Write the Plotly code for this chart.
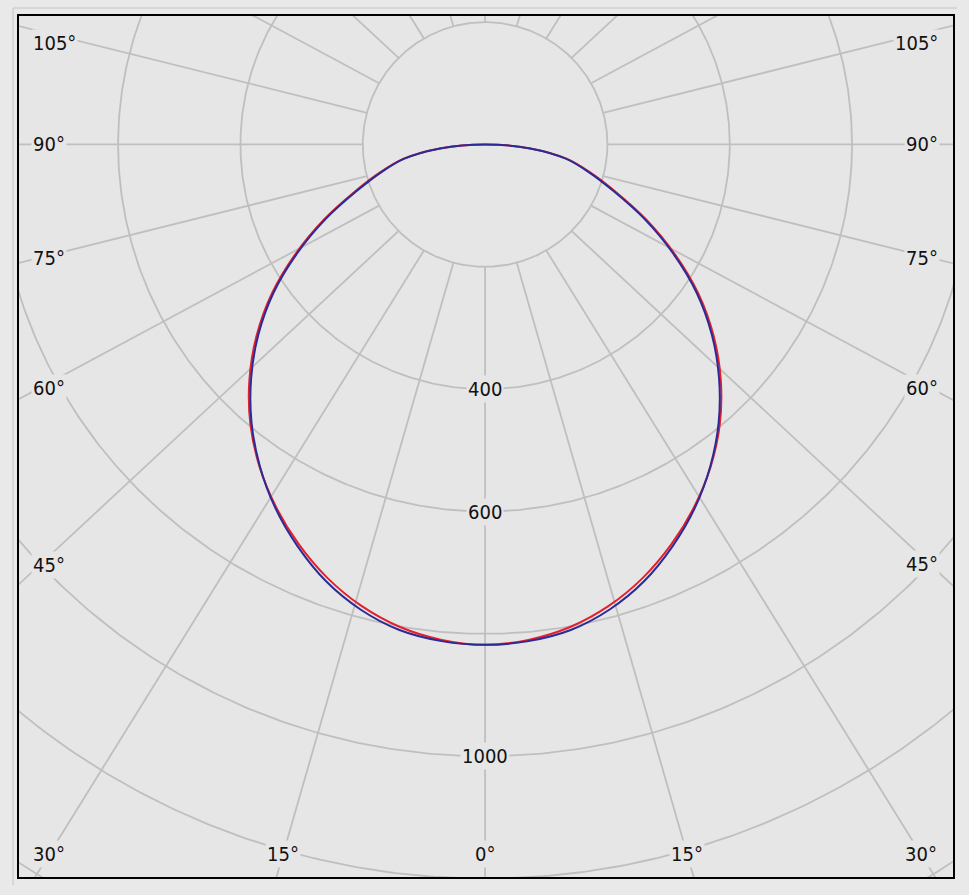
import numpy as np
import plotly.graph_objects as go

# ---------------- data ----------------
angles_deg = list(range(0, 95, 5))  # gamma angles 0..90 (symmetric both sides)
blue_cd = [818, 815, 806, 787, 760, 725, 686, 642, 594, 541, 484, 422, 354, 287, 224, 176, 134, 74, 0]
red_cd = [818, 813, 801, 781, 754, 721, 684, 643, 597, 545, 488, 426, 358, 291, 228, 179, 136, 74, 0]

ring_values = [200, 400, 600, 800, 1000, 1200, 1400]
ring_labels = [400, 600, 1000]
spoke_angles = list(range(0, 360, 15))
side_label_angles = [45, 60, 75, 90, 105]
bottom_label_angles = [0, 15, 30]

# ---------------- layout constants ----------------
W, H = 969, 895
ML, MR, MT, MB = 19, 16, 16, 18
PW, PH = W - ML - MR, H - MT - MB
X_RANGE = [-762.0, 765.0]
Y_RANGE = [-1197.5, 210.0]
SX = PW / (X_RANGE[1] - X_RANGE[0])  # px per cd
SY = PH / (Y_RANGE[1] - Y_RANGE[0])
K = 1.075          # spoke skew of the original software
R_START = 200
GRID = "#bfbfbf"
BG = "#e6e6e6"
FONT = dict(family="DejaVu Sans Condensed, Noto Sans, sans-serif", size=20, color="#111111")


def px_to_x(px):
    return X_RANGE[0] + (px - ML) / SX


def px_to_y(py):
    return Y_RANGE[1] - (py - MT) / SY


def spoke(theta_deg):
    t = np.radians(theta_deg)
    p0 = np.array([R_START * np.sin(t), -R_START * np.cos(t)])
    d = np.array([K * np.sin(t), -np.cos(t)])
    return p0, d


fig = go.Figure()

# rings
rx, ry = [], []
phi = np.linspace(0, 2 * np.pi, 721)
for r in ring_values:
    rx += list(r * np.cos(phi)) + [None]
    ry += list(r * np.sin(phi)) + [None]
fig.add_trace(go.Scatter(x=rx, y=ry, mode="lines", line=dict(color=GRID, width=1.8),
                         hoverinfo="skip", showlegend=False))

# spokes
sx_, sy_ = [], []
for a in spoke_angles:
    p0, d = spoke(a)
    p1 = p0 + 4000 * d
    sx_ += [p0[0], p1[0], None]
    sy_ += [p0[1], p1[1], None]
fig.add_trace(go.Scatter(x=sx_, y=sy_, mode="lines", line=dict(color=GRID, width=1.8),
                         hoverinfo="skip", showlegend=False))


# curves
def curve_xy(vals):
    th = [-a for a in angles_deg[::-1]] + angles_deg[1:]
    iv = vals[::-1] + vals[1:]
    t = np.radians(th)
    iv = np.array(iv, dtype=float)
    return iv * np.sin(t), -iv * np.cos(t)


for vals, col in [(red_cd, "#e3202c"), (blue_cd, "#2b2b98")]:
    x, y = curve_xy(vals)
    fig.add_trace(go.Scatter(x=x, y=y, mode="lines",
                             line=dict(color=col, width=2, shape="spline", smoothing=0.8),
                             hoverinfo="skip", showlegend=False))

annotations = []
# ring labels
for r in ring_labels:
    annotations.append(dict(x=0, y=-r, xref="x", yref="y", text=str(r), showarrow=False,
                            font=FONT, bgcolor=BG, borderpad=1, xanchor="center", yanchor="middle"))

# side angle labels
y_top_lim = px_to_y(43)
for side in (-1, 1):
    for a in side_label_angles:
        p0, d = spoke(side * a)
        xe = px_to_x(40 if side < 0 else 930)
        t = (xe - p0[0]) / d[0]
        yl = min(p0[1] + t * d[1], y_top_lim)
        annotations.append(dict(x=px_to_x(31 if side < 0 else 940), y=yl, xref="x", yref="y",
                                text=f"{a}°", showarrow=False, font=FONT, bgcolor=BG, borderpad=1,
                                xanchor="left" if side < 0 else "right", yanchor="middle"))

# bottom angle labels
yb = px_to_y(854)
for side in (-1, 1):
    for a in bottom_label_angles:
        if a == 0 and side > 0:
            continue
        p0, d = spoke(side * a)
        t = (yb - p0[1]) / d[1]
        xl = p0[0] + t * d[0]
        annotations.append(dict(x=xl, y=yb, xref="x", yref="y", text=f"{a}°", showarrow=False,
                                font=FONT, bgcolor=BG, borderpad=1, xanchor="center", yanchor="middle"))

shapes = [
    dict(type="line", xref="paper", yref="paper", x0=(13 - ML) / PW, x1=(13 - ML) / PW,
         y0=1 + (MT - 8) / PH, y1=-(885 - (MT + PH)) / PH, line=dict(color="#c4c4c4", width=1)),
    dict(type="line", xref="paper", yref="paper", x0=(13 - ML) / PW, x1=(957 - ML) / PW,
         y0=1 + (MT - 8) / PH, y1=1 + (MT - 8) / PH, line=dict(color="#c4c4c4", width=1)),
]

ax = dict(showgrid=False, zeroline=False, showticklabels=False, ticks="",
          showline=True, mirror=True, linecolor="#000000", linewidth=1.5, fixedrange=True)
fig.update_layout(
    width=W, height=H, autosize=False,
    margin=dict(l=ML, r=MR, t=MT, b=MB, pad=0),
    paper_bgcolor="#e9e9e9", plot_bgcolor=BG,
    xaxis=dict(range=X_RANGE, **ax),
    yaxis=dict(range=Y_RANGE, **ax),
    annotations=annotations, shapes=shapes,
    showlegend=False,
)
fig.write_html("out.html", config={"displayModeBar": False},
               post_script="document.body.style.margin='0px';document.body.style.background='#e9e9e9';")
